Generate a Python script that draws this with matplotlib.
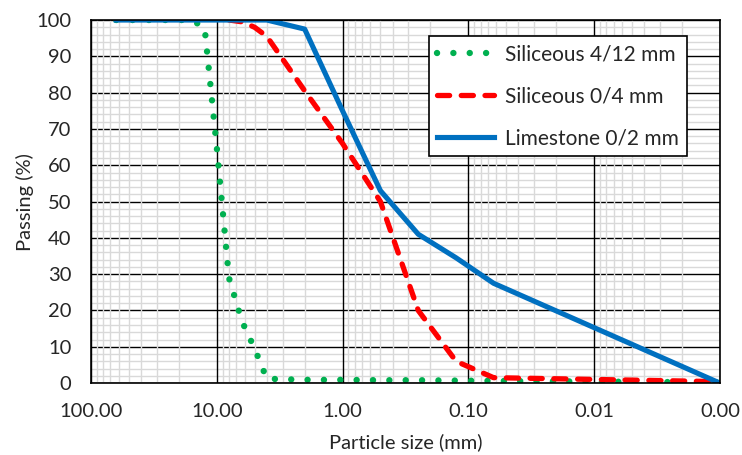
import numpy as np
import matplotlib
matplotlib.use("Agg")
import matplotlib.pyplot as plt
from matplotlib.ticker import FixedLocator, FixedFormatter

plt.rcParams['font.family'] = ['Lato', 'DejaVu Sans']

# Data (sieve size in mm, passing %)
sil412_size = [63, 16, 12.5, 10, 8, 6.3, 5, 4, 2, 1, 0.5, 0.25, 0.125, 0.063, 0.001]
sil412_pass = [100, 100, 98, 65, 29, 17, 9.5, 1.2, 0.9, 0.9, 0.8, 0.8, 0.7, 0.6, 0.2]

sil04_size = [8, 6.3, 5, 4, 2, 1, 0.5, 0.25, 0.125, 0.063, 0.001]
sil04_pass = [100, 99.5, 98, 95.5, 80.5, 66, 50, 20, 6, 1.5, 0.4]

lime02_size = [63, 4, 2, 1, 0.5, 0.25, 0.125, 0.063, 0.001]
lime02_pass = [100, 100, 97.5, 75, 53, 41, 34.5, 27.5, 0]

x_ticks = [100, 10, 1, 0.1, 0.01, 0.001]
x_tick_labels = ["100.00", "10.00", "1.00", "0.10", "0.01", "0.00"]
y_ticks = list(range(0, 101, 10))

FS = 14.5
LFS = 15
TXT = '#262626'

fig = plt.figure(figsize=(7.42, 4.55), dpi=100)
ax = fig.add_axes([0.1226, 0.158, 0.8476, 0.798])

ax.set_xscale('log')
ax.set_xlim(100, 0.001)
ax.set_ylim(0, 100)

# grid lines
minor_x = [m * 10.0**e for e in range(-3, 2) for m in range(2, 10)]
minor_y = [v for v in range(0, 101, 2) if v % 10 != 0]
ax.hlines(minor_y, 0.001, 100, colors='#d9d9d9', lw=1.0, zorder=0.3)
ax.hlines(y_ticks, 0.001, 100, colors='black', lw=1.0, zorder=0.5)
ax.vlines(minor_x, 0, 100, colors='#d9d9d9', lw=1.0, zorder=0.6)
ax.vlines(x_ticks, 0, 100, colors='black', lw=1.0, zorder=0.7)

ax.plot(sil412_size, sil412_pass, color='#00B050', lw=4.6,
        linestyle=(0, (0.01, 2.55)), dash_capstyle='round', solid_capstyle='round',
        label='Siliceous 4/12 mm', zorder=3)
ax.plot(sil04_size, sil04_pass, color='#FF0000', lw=3.8,
        linestyle=(0, (2.3, 2.2)), dash_capstyle='round',
        label='Siliceous 0/4 mm', zorder=4)
ax.plot(lime02_size, lime02_pass, color='#0070C0', lw=3.7,
        label='Limestone 0/2 mm', zorder=5)

ax.xaxis.set_major_locator(FixedLocator(x_ticks))
ax.xaxis.set_major_formatter(FixedFormatter(x_tick_labels))
ax.xaxis.set_minor_locator(FixedLocator([]))
ax.set_yticks(y_ticks)
ax.tick_params(axis='both', which='both', length=0, labelsize=FS, colors=TXT)
ax.tick_params(axis='x', pad=14)
ax.tick_params(axis='y', pad=14)

for s in ax.spines.values():
    s.set_color('black')
    s.set_linewidth(1.2)
    s.set_zorder(6)

ax.set_xlabel('Particle size (mm)', fontsize=FS, color=TXT, labelpad=10)
ax.set_ylabel('Passing (%)', fontsize=FS, color=TXT, labelpad=2)

leg = ax.legend(loc='upper right', bbox_to_anchor=(0.9475, 0.956), fontsize=LFS,
                frameon=True, fancybox=False, edgecolor='black', framealpha=1,
                handlelength=2.75, handletextpad=0.5, labelspacing=1.05,
                borderpad=0.4, borderaxespad=0)
leg.get_frame().set_linewidth(1.2)
for t in leg.get_texts():
    t.set_color(TXT)
leg.set_zorder(10)

fig.savefig('out.png', dpi=100)
